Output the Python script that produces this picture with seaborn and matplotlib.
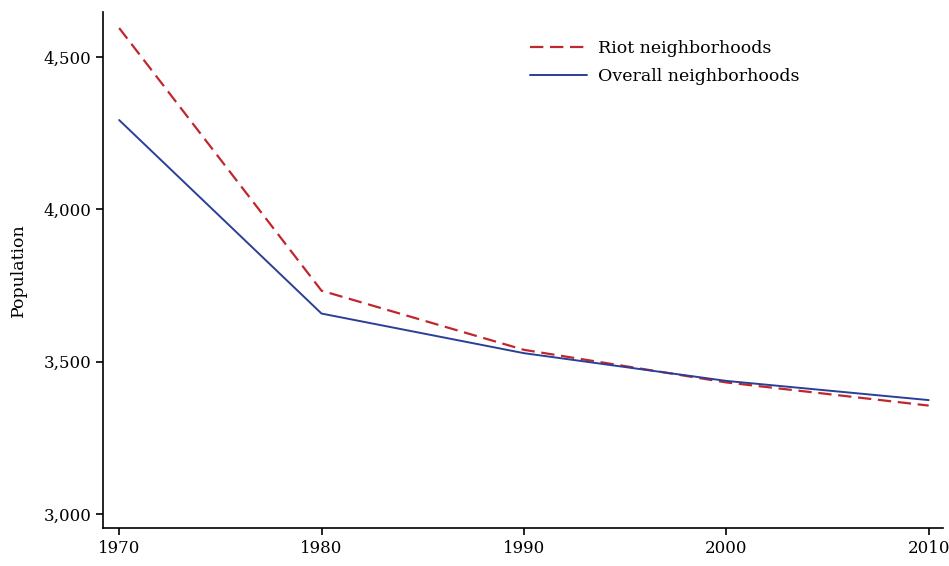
import matplotlib
matplotlib.use("Agg")
import matplotlib.pyplot as plt
import seaborn as sns
import pandas as pd

years = [1970, 1980, 1990, 2000, 2010]
riot = [4595, 3733, 3539, 3432, 3356]
overall = [4293, 3658, 3528, 3437, 3374]

df = pd.DataFrame({"year": years, "Riot neighborhoods": riot, "Overall neighborhoods": overall})

sns.set_style("ticks")
plt.rcParams["font.family"] = ["DejaVu Serif"]
plt.rcParams["text.color"] = "black"
plt.rcParams["xtick.color"] = "black"
plt.rcParams["ytick.color"] = "black"

fig = plt.figure(figsize=(9.49, 5.66), dpi=100)
ax = fig.add_axes([0.1085, 0.067, 0.885, 0.912])
sns.lineplot(data=df, x="year", y="Riot neighborhoods", ax=ax, color="#c0272d",
             linestyle=(0, (6, 3)), linewidth=1.6, label="Riot neighborhoods")
sns.lineplot(data=df, x="year", y="Overall neighborhoods", ax=ax, color="#2a3f97",
             linewidth=1.4, label="Overall neighborhoods")

ax.set_xlim(1969.2, 2010.7)
ax.set_ylim(2954, 4648)
ax.set_xticks(years)
ax.set_yticks([3000, 3500, 4000, 4500])
ax.set_yticklabels(["3,000", "3,500", "4,000", "4,500"])
ax.tick_params(labelsize=12, length=5, width=1.2, color="black")
ax.set_xlabel("")
ax.set_ylabel("Population", fontsize=12.5, color="black", labelpad=12)
for s in ["top", "right"]:
    ax.spines[s].set_visible(False)
for s in ["left", "bottom"]:
    ax.spines[s].set_linewidth(1.2)
    ax.spines[s].set_color("black")
ax.legend(loc="upper left", bbox_to_anchor=(0.49, 0.975), frameon=False, fontsize=12.5,
          handlelength=3.3, labelspacing=0.6, handletextpad=0.6)

fig.savefig("out.png", dpi=100)
